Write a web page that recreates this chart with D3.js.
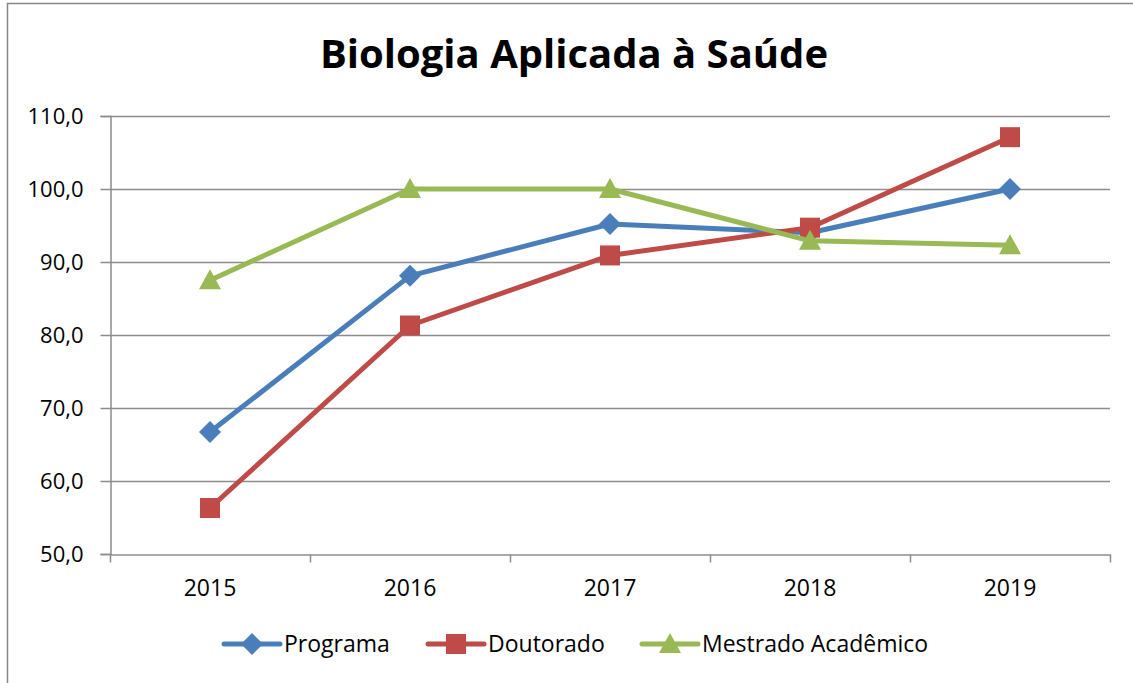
<!DOCTYPE html>
<html lang="pt">
<head>
<meta charset="UTF-8">
<title>Biologia Aplicada à Saúde</title>
<script src="https://cdnjs.cloudflare.com/ajax/libs/d3/7.8.5/d3.min.js"></script>
<style>
  body { margin: 0; background: #fff; }
  svg { font-family: "Open Sans", "Liberation Sans", sans-serif; }
</style>
</head>
<body>
<div id="chart"></div>
<script>
// data
var years = ["2015", "2016", "2017", "2018", "2019"];
var programa = [66.7, 88.1, 95.2, 94.0, 100.0];
var doutorado = [56.3, 81.3, 90.9, 94.7, 107.1];
var mestrado = [87.5, 100.0, 100.0, 92.9, 92.3];
var yTicks = [50, 60, 70, 80, 90, 100, 110];

// marker shapes, Excel style
var diamond = "M0,-11L11,0L0,11L-11,0Z";
var square = "M-10,-10H10V10H-10Z";
var triangle = "M0,-11L11,9H-11Z";

var series = [
  {name: "Programa", values: programa, color: "#4a7ebb", shape: diamond},
  {name: "Doutorado", values: doutorado, color: "#be4b48", shape: square},
  {name: "Mestrado Acadêmico", values: mestrado, color: "#98b954", shape: triangle}
];

var width = 1133, height = 683;
var svg = d3.select("#chart").append("svg")
  .attr("width", width).attr("height", height);

// outer chart border
svg.append("rect")
  .attr("x", 7.5).attr("y", 3.5)
  .attr("width", 1140).attr("height", 700)
  .attr("fill", "#fff").attr("stroke", "#868686").attr("stroke-width", 1.5);

svg.append("text")
  .attr("x", 574).attr("y", 68)
  .attr("text-anchor", "middle")
  .attr("font-weight", "bold")
  .attr("font-size", 40)
  .attr("fill", "#000")
  .text("Biologia Aplicada à Saúde");

var x = d3.scaleBand().domain(years).range([110, 1110]);
var y = d3.scaleLinear().domain([50, 110]).range([554, 116]);

// gridlines
svg.append("g").selectAll("line")
  .data(yTicks.slice(1))
  .enter().append("line")
  .attr("x1", 110).attr("x2", 1110)
  .attr("y1", function(d) { return Math.round(y(d)) + 0.5; })
  .attr("y2", function(d) { return Math.round(y(d)) + 0.5; })
  .attr("stroke", "#8c8c8c").attr("stroke-width", 1.5);

// y axis
var yAxis = svg.append("g")
  .attr("transform", "translate(110.5,0)")
  .call(d3.axisLeft(y).tickValues(yTicks).tickSize(10).tickPadding(17)
    .tickFormat(function(d) { return d3.format(".1f")(d).replace(".", ","); }));
yAxis.select(".domain").attr("stroke", "#8c8c8c").attr("stroke-width", 1.5);
yAxis.selectAll(".tick line").attr("stroke", "#8c8c8c").attr("stroke-width", 1.5);
yAxis.selectAll("text").attr("font-size", 22).attr("fill", "#000")
  .attr("font-family", "'Open Sans', sans-serif");

// x axis
var xAxis = svg.append("g")
  .attr("transform", "translate(0,554.5)")
  .call(d3.axisBottom(x).tickSize(0).tickPadding(25));
xAxis.select(".domain").attr("stroke", "#8c8c8c").attr("stroke-width", 1.5);
xAxis.selectAll("text").attr("font-size", 23).attr("fill", "#000")
  .attr("font-family", "'Open Sans', sans-serif");
// category boundary ticks
xAxis.append("g").selectAll("line")
  .data(years.concat(["end"]))
  .enter().append("line")
  .attr("x1", function(d, i) { return (i < years.length ? x(d) : x.range()[1]) + 0.5; })
  .attr("x2", function(d, i) { return (i < years.length ? x(d) : x.range()[1]) + 0.5; })
  .attr("y1", 0).attr("y2", 8)
  .attr("stroke", "#8c8c8c").attr("stroke-width", 1.5);

var cx = function(i) { return x(years[i]) + x.bandwidth() / 2; };
var line = d3.line()
  .x(function(d, i) { return cx(i); })
  .y(function(d) { return y(d); });

series.forEach(function(s) {
  svg.append("path")
    .datum(s.values)
    .attr("fill", "none")
    .attr("stroke", s.color)
    .attr("stroke-width", 5)
    .attr("stroke-linejoin", "round")
    .attr("d", line);
  svg.append("g").selectAll("path")
    .data(s.values)
    .enter().append("path")
    .attr("transform", function(d, i) { return "translate(" + cx(i) + "," + y(d) + ")"; })
    .attr("d", s.shape)
    .attr("fill", s.color);
});

// legend
var legendX = [222, 426, 640];
var legend = svg.append("g").selectAll("g")
  .data(series)
  .enter().append("g")
  .attr("transform", function(d, i) { return "translate(" + legendX[i] + ",644)"; });
legend.append("line")
  .attr("x1", 2).attr("x2", 58)
  .attr("stroke", function(d) { return d.color; })
  .attr("stroke-width", 5).attr("stroke-linecap", "round");
legend.append("path")
  .attr("transform", "translate(30,0)")
  .attr("d", function(d) { return d.shape; })
  .attr("fill", function(d) { return d.color; });
legend.append("text")
  .attr("x", 62).attr("y", 8)
  .attr("font-size", 23).attr("fill", "#000")
  .text(function(d) { return d.name; });
</script>
</body>
</html>
